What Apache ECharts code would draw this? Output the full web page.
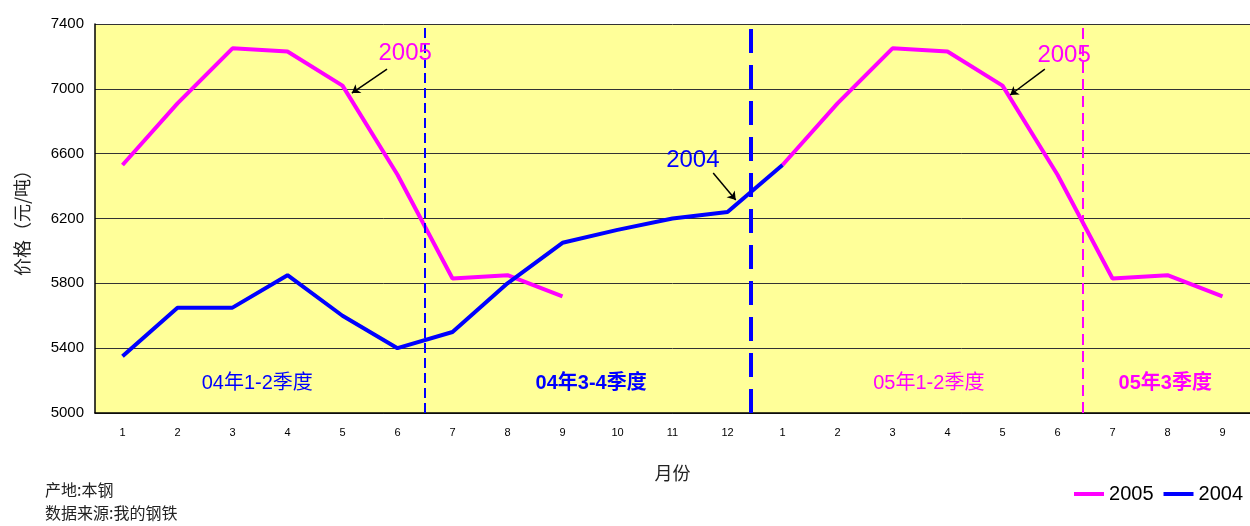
<!DOCTYPE html>
<html>
<head>
<meta charset="utf-8">
<script src="https://cdn.jsdelivr.net/npm/echarts@6/dist/echarts.min.js"></script>
<style>
html,body{margin:0;padding:0;background:#fff;}
#main{width:1250px;height:526px;}
</style>
</head>
<body>
<div id="main"></div>
<script>
// 月份（04年12个月 + 05年9个月）
var months = ['1','2','3','4','5','6','7','8','9','10','11','12','1','2','3','4','5','6','7','8','9'];
// 价格 元/吨
var price2004 = [5350, 5650, 5650, 5850, 5600, 5400, 5500, 5800, 6050, 6130, 6200, 6240];
var price2005 = [6530, 6910, 7250, 7230, 7020, 6470, 5830, 5850, 5720];
var yTicks = [5000, 5400, 5800, 6200, 6600, 7000, 7400];

var FONT = 'Liberation Sans, Arial, sans-serif';
var MIX = 'Liberation Sans, Noto Sans CJK SC, sans-serif';
var CJK = 'Noto Sans CJK SC, sans-serif';

// 2004线接到05年1月的点
var line2004 = price2004.concat([price2005[0]]);
// 2005线：左边与04年同月对比，右边接在04年之后
var line2005 = price2005.concat([null, null, null]).concat(price2005);

var chart = echarts.init(document.getElementById('main'));
var option = {
	animation: false,
	backgroundColor: '#fff',
	grid: {left: 95, right: 0, top: 24, bottom: 113, show: true, backgroundColor: '#FFFF99', borderWidth: 0},
	legend: {
		data: ['2005', '2004'],
		right: 2, bottom: 17,
		icon: 'rect',
		itemWidth: 30, itemHeight: 4, itemGap: 10,
		textStyle: {fontFamily: FONT, fontSize: 20, color: '#000'}
	},
	xAxis: [{
		type: 'category',
		data: months,
		boundaryGap: true,
		name: '月份',
		nameLocation: 'middle',
		nameGap: 51,
		nameTextStyle: {fontFamily: CJK, fontSize: 18, color: '#222'},
		axisLine: {lineStyle: {color: '#000', width: 1.5}},
		axisTick: {inside: true, length: 5, lineStyle: {color: '#000'}},
		axisLabel: {fontFamily: FONT, fontSize: 11, color: '#000', margin: 14}
	}, {
		type: 'value', min: 0, max: 21, show: false
	}],
	yAxis: {
		type: 'value',
		min: yTicks[0], max: yTicks[yTicks.length - 1], interval: 400,
		name: '价格（元/吨）',
		nameLocation: 'middle',
		nameRotate: 90,
		nameGap: 64,
		nameTextStyle: {fontFamily: CJK, fontSize: 18, color: '#222'},
		axisLine: {show: true, lineStyle: {color: '#000', width: 1.5}},
		axisTick: {show: false},
		axisLabel: {fontFamily: FONT, fontSize: 15, color: '#000', margin: 11, formatter: function (v) { return String(v); }},
		splitLine: {lineStyle: {color: '#333', width: 1}}
	},
	series: [{
		name: '2005', type: 'line', data: line2005,
		symbol: 'none', connectNulls: false,
		lineStyle: {color: '#FF00FF', width: 4}, itemStyle: {color: '#FF00FF'}, z: 3
	}, {
		name: '2004', type: 'line', data: line2004,
		symbol: 'none',
		lineStyle: {color: '#0000FF', width: 4}, itemStyle: {color: '#0000FF'}, z: 4
	}, {
		// 分隔线与注释
		name: 'note', type: 'line', xAxisIndex: 1, yAxisIndex: 0, data: [],
		z: 5,
		markLine: {
			silent: true,
			symbol: ['none', 'none'],
			label: {show: false},
			data: [
				{xAxis: 6, lineStyle: {color: '#0000FF', width: 2, type: [10, 5]}},
				{xAxis: 11.92, lineStyle: {color: '#0000FF', width: 4, type: [24, 12]}},
				{xAxis: 17.96, lineStyle: {color: '#FF00FF', width: 2, type: [11, 6]}},
				[{coord: [5.31, 7122], symbol: 'none'}, {coord: [4.67, 6974], symbol: 'arrow', symbolSize: 8, lineStyle: {color: '#000', width: 1.5, type: 'solid'}}],
				[{coord: [17.27, 7122], symbol: 'none'}, {coord: [16.64, 6962], symbol: 'arrow', symbolSize: 8, lineStyle: {color: '#000', width: 1.5, type: 'solid'}}],
				[{coord: [11.24, 6481], symbol: 'none'}, {coord: [11.65, 6314], symbol: 'arrow', symbolSize: 8, lineStyle: {color: '#000', width: 1.5, type: 'solid'}}]
			]
		},
		markPoint: {
			silent: true,
			symbol: 'rect', symbolSize: 1,
			itemStyle: {color: 'rgba(0,0,0,0)'},
			label: {show: true, position: 'inside'},
			data: [
				{coord: [5.64, 7221], label: {formatter: '2005', fontFamily: FONT, fontSize: 24, color: '#FF00FF'}},
				{coord: [17.62, 7209], label: {formatter: '2005', fontFamily: FONT, fontSize: 24, color: '#FF00FF'}},
				{coord: [10.87, 6561], label: {formatter: '2004', fontFamily: FONT, fontSize: 24, color: '#0000FF'}},
				{coord: [2.95, 5185], label: {formatter: '04年1-2季度', fontFamily: MIX, fontSize: 20, color: '#0000FF'}},
				{coord: [9.02, 5185], label: {formatter: '04年3-4季度', fontFamily: MIX, fontSize: 20, fontWeight: 'bold', color: '#0000FF'}},
				{coord: [15.16, 5185], label: {formatter: '05年1-2季度', fontFamily: MIX, fontSize: 20, color: '#FF00FF'}},
				{coord: [19.46, 5185], label: {formatter: '05年3季度', fontFamily: MIX, fontSize: 20, fontWeight: 'bold', color: '#FF00FF'}}
			]
		}
	}],
	graphic: [{
		type: 'text', left: 45, top: 482,
		style: {text: '产地:本钢', font: '16px Noto Sans CJK SC', fill: '#222'}
	}, {
		type: 'text', left: 45, top: 505,
		style: {text: '数据来源:我的钢铁', font: '16px Noto Sans CJK SC', fill: '#222'}
	}]
};
chart.setOption(option);
</script>
</body>
</html>
